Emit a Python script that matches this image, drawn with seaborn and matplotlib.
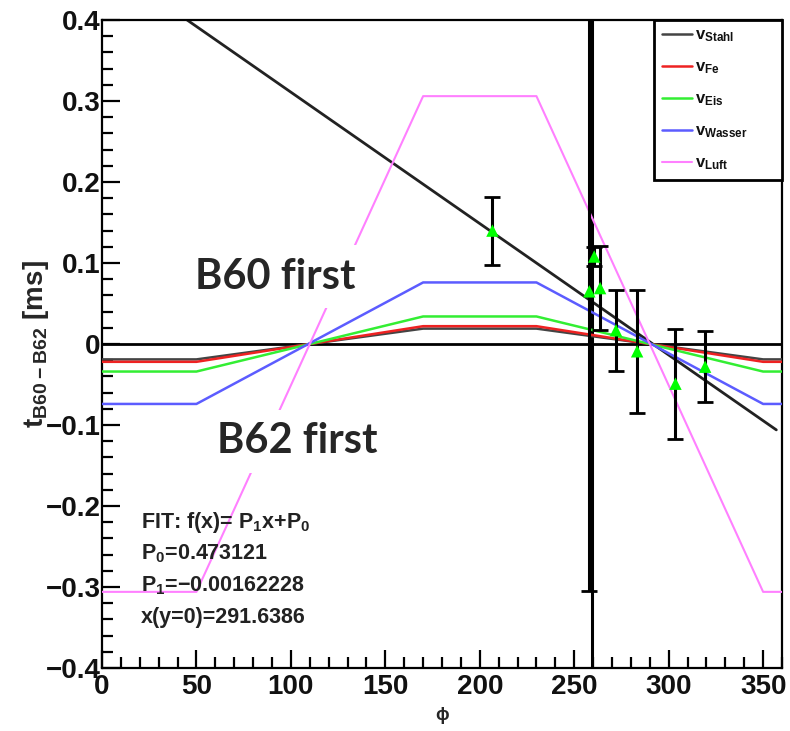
import matplotlib
matplotlib.use("Agg")
import numpy as np
import pandas as pd
import matplotlib.pyplot as plt
import seaborn as sns
from matplotlib.ticker import MultipleLocator, FuncFormatter

# Model curves: expected time difference vs. angle for different sound speeds
phi_model = [0, 50, 170, 230, 350, 360]
v_stahl = [-0.019, -0.019, 0.019, 0.019, -0.019, -0.019]
v_fe = [-0.022, -0.022, 0.022, 0.022, -0.022, -0.022]
v_eis = [-0.034, -0.034, 0.034, 0.034, -0.034, -0.034]
v_wasser = [-0.074, -0.074, 0.076, 0.076, -0.074, -0.074]
v_luft = [-0.306, -0.306, 0.306, 0.306, -0.306, -0.306]

# Measurements
phi_meas = [206.7, 258.0, 260.6, 263.7, 272.1, 283.3, 303.6, 319.3]
t_meas = [0.140, 0.065, 0.108, 0.069, 0.017, -0.009, -0.049, -0.028]
t_err = [0.042, 0.370, 0.012, 0.052, 0.050, 0.076, 0.068, 0.044]

# Linear fit result
P0 = 0.473121
P1 = -0.00162228
x0 = 291.6386
fit_range = [0, 357]

phi_marker = 259.3

sns.set_theme(style="white")
plt.rcParams["font.family"] = ["Liberation Sans", "DejaVu Sans"]
plt.rcParams["font.weight"] = "bold"
plt.rcParams["mathtext.default"] = "regular"

fig = plt.figure(figsize=(7.9, 7.31), dpi=100)
ax = fig.add_axes([102 / 790, 1 - 668 / 731, 680 / 790, 648 / 731])

curves = pd.DataFrame({
    "phi": phi_model,
    "v$_{Stahl}$": v_stahl,
    "v$_{Fe}$": v_fe,
    "v$_{Eis}$": v_eis,
    "v$_{Wasser}$": v_wasser,
    "v$_{Luft}$": v_luft,
})
colors = {
    "v$_{Stahl}$": "#444444",
    "v$_{Fe}$": "#ee2222",
    "v$_{Eis}$": "#33ee33",
    "v$_{Wasser}$": "#5c5cff",
    "v$_{Luft}$": "#ff80ff",
}
widths = {
    "v$_{Stahl}$": 1.8,
    "v$_{Fe}$": 1.8,
    "v$_{Eis}$": 1.8,
    "v$_{Wasser}$": 1.8,
    "v$_{Luft}$": 1.5,
}

# zero line and marker line
ax.axhline(0, color="black", lw=2, zorder=2)
ax.axvline(phi_marker, color="black", lw=2.2, zorder=3)

# fit line
fit_x = np.array(fit_range, dtype=float)
fit_y = P0 + P1 * fit_x
sns.lineplot(x=fit_x, y=fit_y, ax=ax, color="#222222", lw=2, zorder=2)

for name in ["v$_{Stahl}$", "v$_{Fe}$", "v$_{Eis}$", "v$_{Wasser}$", "v$_{Luft}$"]:
    sns.lineplot(data=curves, x="phi", y=name, ax=ax, color=colors[name],
                 lw=widths[name], label=name, zorder=3)

# data points with error bars
ax.errorbar(phi_meas, t_meas, yerr=t_err, fmt="none", ecolor="black",
            elinewidth=2.2, capsize=6, capthick=2, zorder=4)
sns.scatterplot(x=phi_meas, y=t_meas, ax=ax, marker="^", color="#00ff00",
                s=80, edgecolor="none", zorder=5, legend=False)

ax.set_xlim(0, 360)
ax.set_ylim(-0.4, 0.4)

ax.xaxis.set_major_locator(MultipleLocator(50))
ax.xaxis.set_minor_locator(MultipleLocator(10))
ax.yaxis.set_major_locator(MultipleLocator(0.1))
ax.yaxis.set_minor_locator(MultipleLocator(0.02))


def fmt_y(v, pos):
    if abs(v) < 1e-9:
        return "0"
    return f"{v:.1f}".replace("-", "\u2212")


ax.yaxis.set_major_formatter(FuncFormatter(fmt_y))
ax.xaxis.set_major_formatter(FuncFormatter(lambda v, p: f"{v:.0f}"))

ax.tick_params(axis="both", which="major", direction="in", length=13, width=1.6,
               labelsize=20, color="black", labelcolor="#111111")
ax.tick_params(axis="both", which="minor", direction="in", length=8, width=1.6,
               color="black")
ax.tick_params(axis="y", which="both", left=True, right=False, pad=1)
ax.tick_params(axis="x", which="both", bottom=True, top=False, pad=4)
for lab in ax.get_xticklabels() + ax.get_yticklabels():
    lab.set_fontweight("bold")

for s in ax.spines.values():
    s.set_color("black")
    s.set_linewidth(1.6)

ax.set_xlabel("\u03d5", fontsize=13, fontweight="bold")
ax.xaxis.set_label_coords(0.5, -0.06)
ax.set_ylabel("t$_{B60\u2212B62}$ [ms]", fontsize=20, fontweight="bold")
ax.yaxis.set_label_coords(-0.075, 0.5)

leg = ax.legend(loc="upper left", bbox_to_anchor=(0.812, 0.75, 0.188, 0.25),
                mode="expand", borderaxespad=0, frameon=True, fancybox=False,
                fontsize=12, handlelength=1.8, handletextpad=0.2,
                borderpad=0.45, labelspacing=0.92)
frame = leg.get_frame()
frame.set_edgecolor("black")
frame.set_linewidth(2)
frame.set_alpha(1)
for t in leg.get_texts():
    t.set_fontweight("bold")
    t.set_color("#111111")

fit_lines = [
    "FIT: f(x)= P$_1$x+P$_0$",
    f"P$_0$={P0}",
    f"P$_1$=\u2212{abs(P1):.8f}",
    f"x(y=0)={x0}",
]
for i, line in enumerate(fit_lines):
    ax.text(0.057, 0.225 - i * 0.049, line, transform=ax.transAxes,
            fontsize=15.5, fontweight="bold", color="#222222", va="center",
            ha="left", zorder=6)

box = dict(boxstyle="square,pad=0.3", fc="white", ec="none")
ax.text(49, 0.083, "B60 first", fontsize=30, fontweight="bold",
        family=["Lato", "DejaVu Sans"], va="center", ha="left", bbox=box,
        zorder=7)
ax.text(61, -0.12, "B62 first", fontsize=30, fontweight="bold",
        family=["Lato", "DejaVu Sans"], va="center", ha="left", bbox=box,
        zorder=7)

fig.savefig("out.png", dpi=100)
